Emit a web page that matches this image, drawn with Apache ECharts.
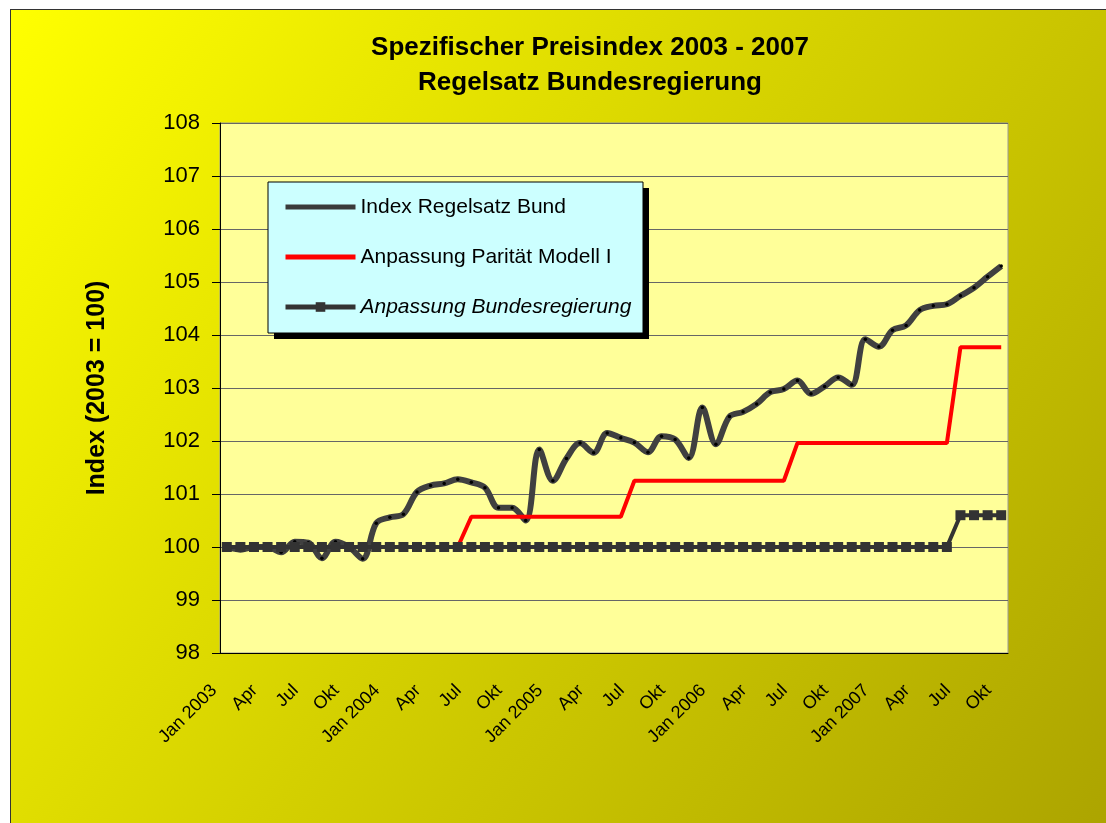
<!DOCTYPE html>
<html lang="de">
<head>
<meta charset="UTF-8">
<title>Spezifischer Preisindex 2003 - 2007</title>
<script src="https://cdn.jsdelivr.net/npm/echarts@6/dist/echarts.min.js"></script>
<style>
    html, body { margin: 0; padding: 0; background: #fff; overflow: hidden; }
    #chart { position: absolute; left: 10px; top: 9px; width: 1100px; height: 815px; border: 1px solid #333; }
</style>
</head>
<body>
<div id="chart"></div>
<script>
    // Monate Jan 2003 - Okt 2007
    var years = [2003, 2004, 2005, 2006, 2007];
    var monthNames = ['Jan', 'Feb', 'Mär', 'Apr', 'Mai', 'Jun', 'Jul', 'Aug', 'Sep', 'Okt', 'Nov', 'Dez'];
    var monthCount = 58;

    var indexBund = [
        100.0, 99.95, 100.0, 100.0, 99.9, 100.1, 100.08, 99.79, 100.1, 100.0, 99.78, 100.45,
        100.56, 100.62, 101.04, 101.16, 101.2, 101.28, 101.22, 101.12, 100.74, 100.74, 100.5, 101.84,
        101.25, 101.67, 101.96, 101.78, 102.15, 102.06, 101.97, 101.79, 102.09, 102.03, 101.68, 102.63,
        101.94, 102.46, 102.55, 102.7, 102.92, 102.98, 103.14, 102.89, 103.03, 103.2, 103.06, 103.92,
        103.78, 104.09, 104.18, 104.47, 104.55, 104.58, 104.74, 104.89, 105.1, 105.3
    ];
    var paritaet = [
        100, 100, 100, 100, 100, 100, 100, 100, 100, 100, 100, 100,
        100, 100, 100, 100, 100, 100, 100.57, 100.57, 100.57, 100.57, 100.57, 100.57,
        100.57, 100.57, 100.57, 100.57, 100.57, 100.57, 101.25, 101.25, 101.25, 101.25, 101.25, 101.25,
        101.25, 101.25, 101.25, 101.25, 101.25, 101.25, 101.96, 101.96, 101.96, 101.96, 101.96, 101.96,
        101.96, 101.96, 101.96, 101.96, 101.96, 101.96, 103.77, 103.77, 103.77, 103.77
    ];
    var bundesregierung = [
        100, 100, 100, 100, 100, 100, 100, 100, 100, 100, 100, 100,
        100, 100, 100, 100, 100, 100, 100, 100, 100, 100, 100, 100,
        100, 100, 100, 100, 100, 100, 100, 100, 100, 100, 100, 100,
        100, 100, 100, 100, 100, 100, 100, 100, 100, 100, 100, 100,
        100, 100, 100, 100, 100, 100, 100.6, 100.6, 100.6, 100.6
    ];
    var seriesNames = ['Index Regelsatz Bund', 'Anpassung Parität Modell I', 'Anpassung Bundesregierung'];

    var categories = [];
    for (var i = 0; i < monthCount; i++) {
        var m = i % 12;
        categories.push(m === 0 ? monthNames[m] + ' ' + years[Math.floor(i / 12)] : monthNames[m]);
    }

    var chart = echarts.init(document.getElementById('chart'));
    var font = '"Liberation Sans", Arial, sans-serif';
    var barIcon = 'path://M0,0H68V5H0Z';

    var option = {
        animation: false,
        backgroundColor: {
            type: 'linear', x: 0, y: 0, x2: 1, y2: 1,
            colorStops: [
                {offset: 0, color: '#ffff00'},
                {offset: 0.5, color: '#d4d000'},
                {offset: 1, color: '#aca400'}
            ]
        },
        title: {
            text: 'Spezifischer Preisindex 2003 - 2007\nRegelsatz Bundesregierung',
            left: 579,
            top: 20,
            padding: 0,
            textAlign: 'center',
            textStyle: {fontFamily: font, fontSize: 26, fontWeight: 'bold', color: '#000', lineHeight: 35}
        },
        // Legendenkasten mit Schatten
        graphic: [
            {type: 'rect', z: 1, shape: {x: 263, y: 178, width: 375, height: 151}, style: {fill: '#000'}},
            {type: 'rect', z: 2, shape: {x: 257, y: 172, width: 375, height: 151},
                style: {fill: '#ccffff', stroke: '#000', lineWidth: 1}}
        ],
        legend: {
            orient: 'vertical',
            left: 272,
            top: 185,
            padding: 0,
            z: 5,
            itemGap: 26,
            itemWidth: 70,
            itemHeight: 12,
            textStyle: {fontFamily: font, fontSize: 21, color: '#000', lineHeight: 24},
            data: [
                {name: seriesNames[0], icon: barIcon, itemStyle: {color: '#3a3a3a'}},
                {name: seriesNames[1], icon: barIcon, itemStyle: {color: '#ff0000'}},
                {name: seriesNames[2], lineStyle: {width: 5}, textStyle: {fontStyle: 'italic'}}
            ]
        },
        grid: {
            left: 209, right: 103, top: 113, bottom: 172,
            show: true,
            backgroundColor: '#ffff99',
            borderColor: '#999',
            borderWidth: 1
        },
        xAxis: {
            type: 'category',
            data: categories,
            boundaryGap: true,
            axisLine: {lineStyle: {color: '#000', width: 1}},
            axisTick: {
                length: 7,
                lineStyle: {color: '#000'},
                interval: function (i) { return i % 3 === 1; }
            },
            axisLabel: {
                interval: function (i) { return i % 3 === 0; },
                rotate: 45,
                margin: 22,
                padding: [0, 18, 0, 0],
                fontFamily: font,
                fontSize: 18,
                color: '#000'
            },
            splitLine: {show: false}
        },
        yAxis: {
            type: 'value',
            min: 98,
            max: 108,
            interval: 1,
            name: 'Index (2003 = 100)',
            nameLocation: 'middle',
            nameGap: 110,
            nameTextStyle: {fontFamily: font, fontSize: 25, fontWeight: 'bold', color: '#000'},
            axisLine: {show: true, lineStyle: {color: '#000', width: 1}},
            axisTick: {show: true, length: 8, lineStyle: {color: '#000'}},
            axisLabel: {margin: 20, fontFamily: font, fontSize: 22, color: '#000'},
            splitLine: {lineStyle: {color: '#666', width: 1}}
        },
        series: [
            {
                name: seriesNames[0],
                type: 'line',
                data: indexBund,
                smooth: 0.35,
                symbol: 'circle',
                symbolSize: 3.5,
                showAllSymbol: true,
                lineStyle: {color: '#404040', width: 6},
                itemStyle: {color: '#000'}
            },
            {
                name: seriesNames[1],
                type: 'line',
                data: paritaet,
                symbol: 'none',
                lineStyle: {color: '#ff0000', width: 4},
                itemStyle: {color: '#ff0000'}
            },
            {
                name: seriesNames[2],
                type: 'line',
                data: bundesregierung,
                symbol: 'rect',
                symbolSize: 10,
                showAllSymbol: true,
                lineStyle: {color: '#333', width: 4},
                itemStyle: {color: '#333'}
            }
        ]
    };
    chart.setOption(option);
</script>
</body>
</html>
